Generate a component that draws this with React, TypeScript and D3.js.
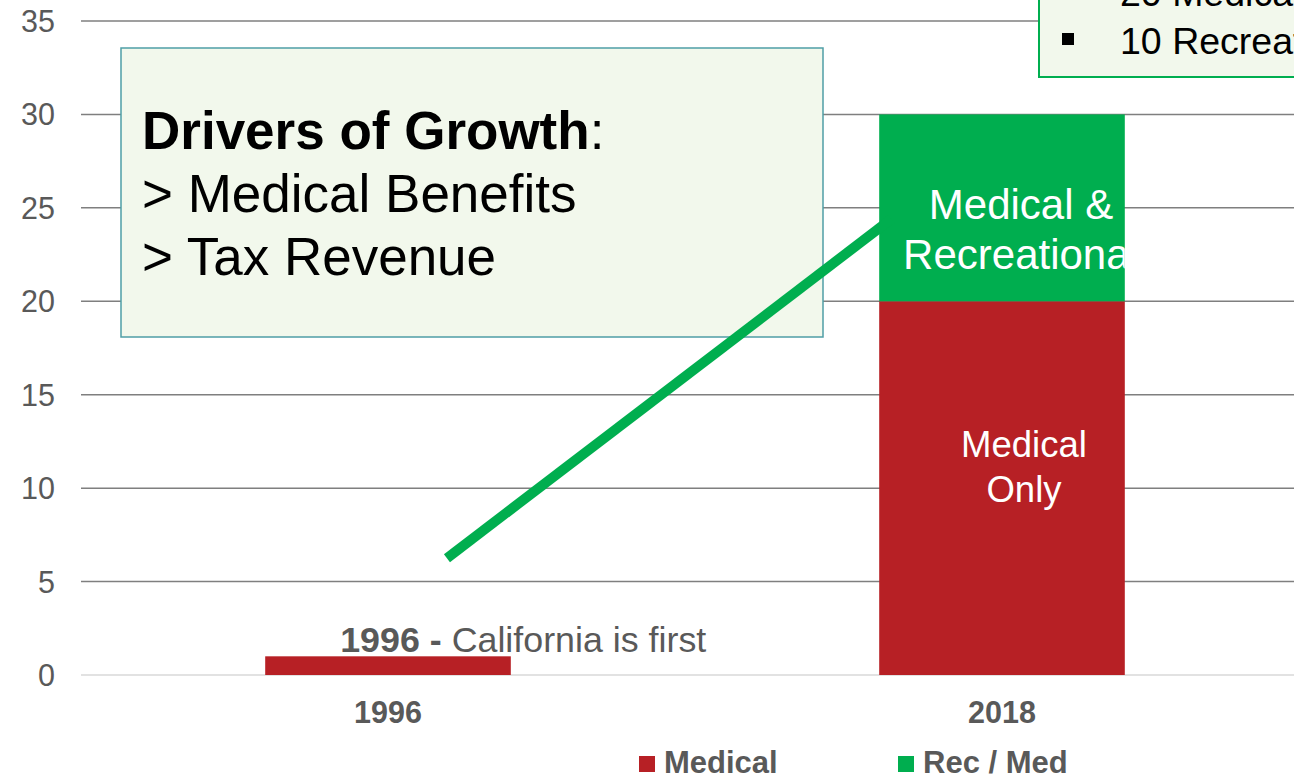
import React from "react";
import * as d3 from "d3";

const categories = ["1996", "2018"];
const medicalValues = [1, 20];
const recMedValues = [0, 10];
const yTicks = [0, 5, 10, 15, 20, 25, 30, 35];
const seriesNames = ["Medical", "Rec / Med"];
const driversLines = ["> Medical Benefits", "> Tax Revenue"];
const calloutLines = ["20 Medical", "10 Recreational"];

const W = 1294;
const H = 777;
const RED = "#B72025";
const GREEN = "#00AE4F";
const GRAY_TEXT = "#595959";
const FONT = "'Liberation Sans', Arial, sans-serif";

export default function App() {
  const x = d3.scaleBand<string>().domain(categories).range([81, 1309]).paddingInner(0.6).paddingOuter(0.3);
  const y = d3.scaleLinear().domain([0, 35]).range([675, 21]);
  const bw = x.bandwidth();

  const stack = d3.stack<any>().keys(["med", "rec"])(
    categories.map((c, i) => ({ cat: c, med: medicalValues[i], rec: recMedValues[i] }))
  );
  const colors = [RED, GREEN];

  const x2018 = x("2018")!;
  const x1996 = x("1996")!;
  const labelCx = x2018 + bw / 2 + 20;

  const lineStart: [number, number] = [x1996 + bw * 0.74, y(6.25)];
  const lineEnd: [number, number] = [x2018 + 12, y(24.4)];

  return (
    <svg width={W} height={H} style={{ position: "absolute", left: 0, top: 0, background: "#fff" }} fontFamily={FONT}>
      <defs>
        <clipPath id="greenBarClip">
          <rect x={x2018} y={y(30)} width={bw} height={y(20) - y(30)} />
        </clipPath>
      </defs>
      {/* gridlines */}
      {yTicks.map((t) => (
        <line key={t} x1={81} x2={W} y1={y(t)} y2={y(t)} stroke={t === 0 ? "#D9D9D9" : "#7F7F7F"} strokeWidth={1.5} />
      ))}
      {/* y labels */}
      {yTicks.map((t) => (
        <text key={"l" + t} x={55} y={y(t) + 11} textAnchor="end" fontSize={30.5} fill={GRAY_TEXT}>
          {t}
        </text>
      ))}
      {/* bars */}
      {stack.map((s, si) =>
        s.map((d, i) =>
          d[1] - d[0] > 0 ? (
            <rect key={si + "-" + i} x={x(categories[i])!} y={y(d[1])} width={bw} height={y(d[0]) - y(d[1])} fill={colors[si]} />
          ) : null
        )
      )}
      {/* x labels */}
      {categories.map((c) => (
        <text key={c} x={x(c)! + bw / 2} y={723} textAnchor="middle" fontSize={30.5} fontWeight="bold" fill={GRAY_TEXT}>
          {c}
        </text>
      ))}
      {/* bar labels */}
      <g clipPath="url(#greenBarClip)" fill="#fff" fontSize={42} textAnchor="middle">
        <text x={labelCx - 1} y={219}>Medical &amp;</text>
        <text x={labelCx - 1} y={269}>Recreational</text>
      </g>
      <g fill="#fff" fontSize={36.5} textAnchor="middle">
        <text x={labelCx + 2} y={457}>Medical</text>
        <text x={labelCx + 2} y={502}>Only</text>
      </g>
      <text x={x1996 + 75} y={652} fontSize={35.8} fill={GRAY_TEXT}>
        <tspan fontWeight="bold">1996 - </tspan>
        <tspan>California is first</tspan>
      </text>
      {/* drivers box */}
      <rect x={121} y={48} width={702} height={289} fill="#F2F8EC" stroke="#4F9EA6" strokeWidth={1.5} />
      <text x={142} y={149} fontSize={53} fill="#000">
        <tspan fontWeight="bold">Drivers of Growth</tspan>
        <tspan>:</tspan>
      </text>
      {driversLines.map((l, i) => (
        <text key={l} x={142} y={212 + i * 63} fontSize={53} fill="#000">
          {l}
        </text>
      ))}
      {/* green arrow line */}
      <line x1={lineStart[0]} y1={lineStart[1]} x2={lineEnd[0]} y2={lineEnd[1]} stroke={GREEN} strokeWidth={10} />
      {/* top-right callout */}
      <rect x={1039} y={-120} width={400} height={197} fill="#F2F8EC" stroke={GREEN} strokeWidth={2} />
      {calloutLines.map((l, i) => (
        <g key={l}>
          <rect x={1062} y={33 - 48 * (1 - i)} width={12} height={12} fill="#000" />
          <text x={1120} y={54 - 48 * (1 - i)} fontSize={37.5} fill="#000">
            {l}
          </text>
        </g>
      ))}
      {/* legend */}
      {seriesNames.map((n, i) => (
        <g key={n}>
          <rect x={639 + i * 259} y={756} width={16} height={16} fill={colors[i]} />
          <text x={664 + i * 259} y={773} fontSize={31} fontWeight="bold" fill={GRAY_TEXT}>
            {n}
          </text>
        </g>
      ))}
    </svg>
  );
}
